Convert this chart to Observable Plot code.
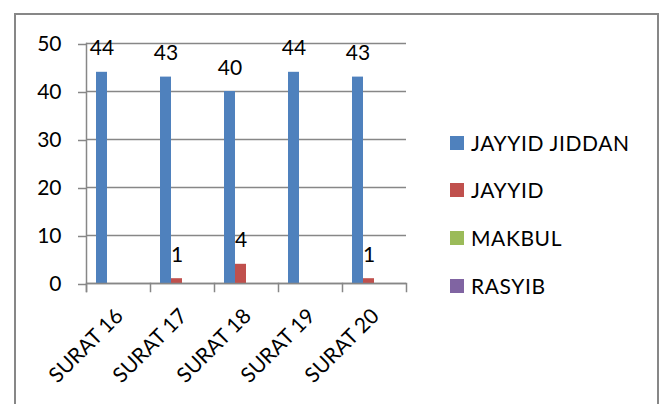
<!DOCTYPE html>
<html>
<head>
<meta charset="utf-8">
<script src="https://cdn.jsdelivr.net/npm/d3@7"></script>
<script src="https://cdn.jsdelivr.net/npm/@observablehq/plot@0.6"></script>
<style>
  html, body { margin: 0; padding: 0; background: #fff; }
  #chart { position: relative; width: 661px; height: 406px; font-family: Lato, "Noto Sans", sans-serif; }
  #border { position: absolute; left: 14px; top: 13px; width: 641px; height: 389px; border: 2px solid #878787; border-bottom: none; }
  #plot { position: absolute; left: 0; top: 0; width: 661px; height: 406px; }
  #legend { position: absolute; left: 450px; top: 100px; width: 200px; height: 220px; }
  .item { position: absolute; left: 0; height: 32px; line-height: 32px; display: flex; align-items: center; white-space: nowrap; font-size: 21px; letter-spacing: 0.6px; color: #000; }
  .swatch { width: 14px; height: 14px; margin-right: 7px; flex: none; }
</style>
</head>
<body>
<div id="chart">
  <div id="border"></div>
  <div id="plot"></div>
  <div id="legend"></div>
</div>
<script>
// Categories (x axis) and series (legend)
const categories = ["SURAT 16", "SURAT 17", "SURAT 18", "SURAT 19", "SURAT 20"];
const series = ["JAYYID JIDDAN", "JAYYID", "MAKBUL", "RASYIB"];

// Values per series, one entry per category
const jayyidJiddan = [44, 43, 40, 44, 43];
const jayyid = [0, 1, 4, 0, 1];
const makbul = [0, 0, 0, 0, 0];
const rasyib = [0, 0, 0, 0, 0];

const colors = ["#4F81BD", "#C0504D", "#9BBB59", "#8064A2"];
const yTicks = [0, 10, 20, 30, 40, 50];

// Long table for the grouped bars
const seriesValues = [jayyidJiddan, jayyid, makbul, rasyib];
const rows = categories.flatMap((category, i) =>
  series.map((s, j) => ({category, series: s, value: seriesValues[j][i]}))
);

const gray = "#878787";
const lineW = 1.5;
const innerHeight = 406 - 43 - 123;

const chart = Plot.plot({
  width: 661,
  height: 406,
  marginTop: 43,
  marginBottom: 123,
  marginLeft: 85,
  marginRight: 254,
  style: {background: "transparent", fontFamily: "Lato, sans-serif", fontSize: "21px", color: "#000"},
  fx: {domain: categories, padding: 0, axis: null},
  x: {domain: series, paddingInner: 0, paddingOuter: 0.75, axis: null},
  y: {domain: [0, 50], axis: null},
  color: {domain: series, range: colors},
  marks: [
    Plot.gridY(yTicks, {stroke: gray, strokeOpacity: 1, strokeWidth: lineW}),
    Plot.axisY(yTicks, {label: null, tickSize: 8, tickPadding: 17, stroke: gray, strokeWidth: lineW, fontSize: 21, fill: "#000", dy: 1}),
    // value axis line, running down into the first category tick
    Plot.frame({anchor: "left", facetAnchor: "left", insetBottom: -8, stroke: gray, strokeWidth: lineW}),
    // category separator ticks below the baseline
    Plot.frame({anchor: "left", insetTop: innerHeight, insetBottom: -8, stroke: gray, strokeWidth: lineW}),
    Plot.frame({anchor: "right", facetAnchor: "right", insetTop: innerHeight, insetBottom: -8, stroke: gray, strokeWidth: lineW}),
    Plot.barY(rows, {fx: "category", x: "series", y: "value", fill: "series"}),
    Plot.ruleY([0], {stroke: gray, strokeWidth: lineW}),
    Plot.text(rows.filter(d => d.value > 0), {
      fx: "category", x: "series", y: "value", text: d => String(d.value),
      dy: -17, lineAnchor: "bottom", fontSize: 21, fill: "#000"
    }),
    Plot.axisFx({anchor: "bottom", label: null, tickSize: 0, tickRotate: -45, tickPadding: 29, dx: 1, fontSize: 21, fill: "#000"})
  ]
});
document.getElementById("plot").appendChild(chart);

// Legend on the right
const legend = document.getElementById("legend");
series.forEach((name, i) => {
  const item = document.createElement("div");
  item.className = "item";
  item.style.top = (42.5 + i * 47.8 - 16) + "px";
  const sw = document.createElement("span");
  sw.className = "swatch";
  sw.style.background = colors[i];
  const label = document.createElement("span");
  label.textContent = name;
  item.appendChild(sw);
  item.appendChild(label);
  legend.appendChild(item);
});
</script>
</body>
</html>
